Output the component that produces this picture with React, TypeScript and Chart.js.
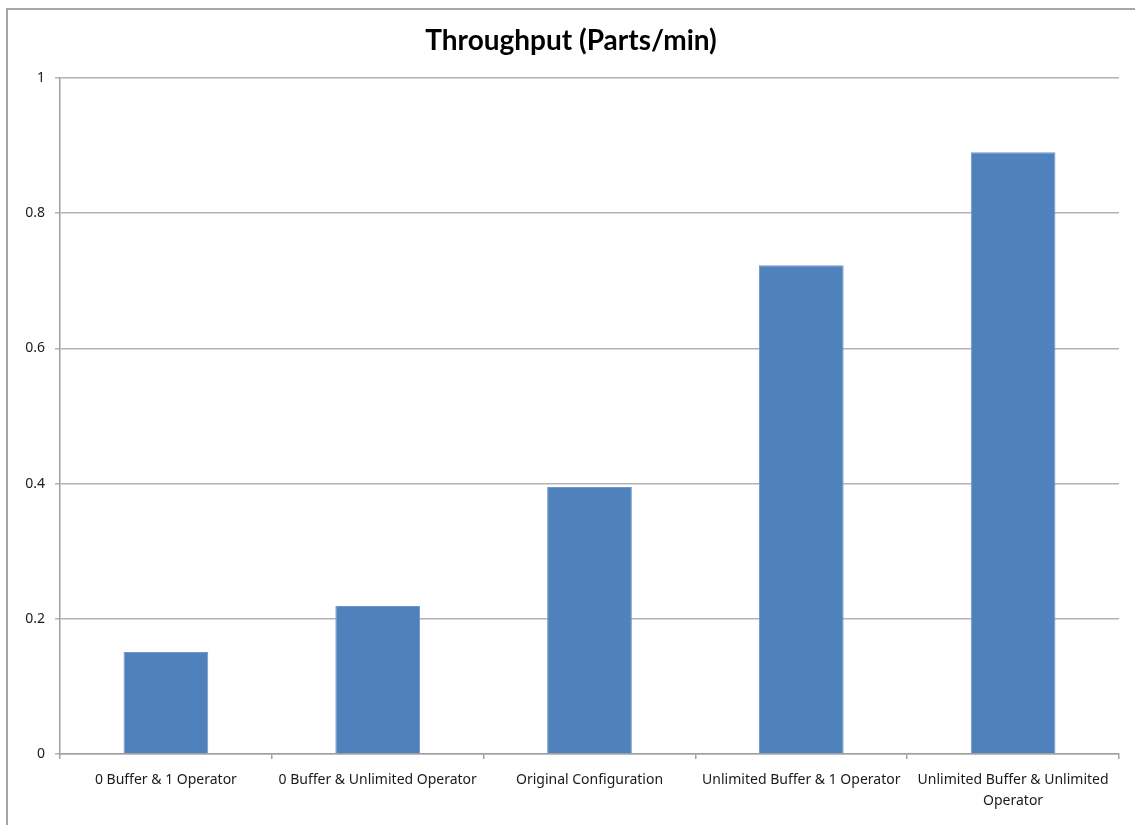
import React, { useEffect, useRef } from "react";
import { Chart, registerables } from "chart.js";

Chart.register(...registerables);

const categories: (string | string[])[] = [
  "0 Buffer & 1 Operator",
  "0 Buffer & Unlimited Operator",
  "Original Configuration",
  "Unlimited Buffer & 1 Operator",
  ["Unlimited Buffer & Unlimited", "Operator"],
];
const throughput = [0.151, 0.219, 0.395, 0.723, 0.89];
const yTicks = [0, 0.2, 0.4, 0.6, 0.8, 1];
const chartTitle = "Throughput (Parts/min)";

const TITLE_FONT = "Lato, 'Liberation Sans', sans-serif";
const LABEL_FONT = "'Noto Sans', 'Liberation Sans', sans-serif";

// Frame around the chart (top and left edges of the chart box)
const framePlugin = {
  id: "frame",
  beforeDraw(chart: Chart) {
    const ctx = chart.ctx;
    ctx.save();
    ctx.fillStyle = "#ffffff";
    ctx.fillRect(0, 0, chart.width, chart.height);
    ctx.strokeStyle = "#a6a6a6";
    ctx.lineWidth = 2;
    ctx.beginPath();
    ctx.moveTo(7, chart.height);
    ctx.lineTo(7, 9);
    ctx.lineTo(chart.width, 9);
    ctx.stroke();
    ctx.restore();
  },
};

export default function App() {
  const canvasRef = useRef<HTMLCanvasElement | null>(null);

  useEffect(() => {
    if (!canvasRef.current) return;
    const chart = new Chart(canvasRef.current, {
      type: "bar",
      data: {
        labels: categories,
        datasets: [
          {
            label: "Throughput",
            data: throughput,
            backgroundColor: "#4f81bd",
            borderColor: "#6e97c9",
            borderWidth: 1,
            barPercentage: 0.4,
            categoryPercentage: 1,
          },
        ],
      },
      options: {
        animation: false,
        responsive: false,
        maintainAspectRatio: false,
        layout: { padding: { left: 23, right: 16, top: 0, bottom: 0 } },
        plugins: {
          legend: { display: false },
          tooltip: { enabled: false },
          title: {
            display: true,
            text: chartTitle,
            color: "#000000",
            font: { family: TITLE_FONT, size: 28, weight: "bold", lineHeight: 1.2 },
            padding: { top: 24, bottom: 20.4 },
          },
        },
        scales: {
          x: {
            grid: {
              display: true,
              drawOnChartArea: false,
              drawTicks: true,
              tickLength: 5,
              offset: true,
              color: "#a0a0a0",
              lineWidth: 1.5,
            },
            border: { display: true, color: "#a0a0a0", width: 1.5 },
            ticks: {
              color: "#1a1a1a",
              font: { family: LABEL_FONT, size: 14, lineHeight: 1.5 },
              padding: 11,
              maxRotation: 0,
              autoSkip: false,
            },
            afterFit(scale: any) {
              scale.height = 71;
            },
          },
          y: {
            min: 0,
            max: 1,
            afterBuildTicks(scale: any) {
              scale.ticks = yTicks.map((v) => ({ value: v }));
            },
            grid: {
              color: "#b3b3b3",
              lineWidth: 1.5,
              drawTicks: true,
              tickLength: 5,
            },
            border: { display: true, color: "#a0a0a0", width: 1.5 },
            ticks: {
              color: "#1a1a1a",
              font: { family: LABEL_FONT, size: 14 },
              padding: 10,
              callback: (v: any) => String(Number(v)),
            },
            afterFit(scale: any) {
              scale.width = 37;
            },
          },
        },
      },
      plugins: [framePlugin],
    });
    return () => chart.destroy();
  }, []);

  return (
    <div style={{ position: "absolute", left: 0, top: 0, width: 1135, height: 825, overflow: "hidden" }}>
      <canvas ref={canvasRef} width={1135} height={825} style={{ display: "block" }} />
    </div>
  );
}
